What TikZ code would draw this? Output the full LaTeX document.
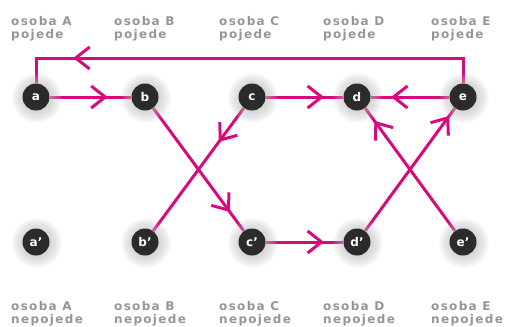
\documentclass[tikz,border=0pt]{standalone}
\usepackage{fontspec}
\setmainfont{DejaVu Sans}
\newfontfamily\capfont[LetterSpace=11]{DejaVu Sans Bold}
\newfontfamily\dotfont{DejaVu Sans Bold}
\usetikzlibrary{decorations.markings}

\definecolor{flow}{RGB}{214,10,125}
\definecolor{dot}{RGB}{43,43,43}
\definecolor{capgray}{RGB}{150,150,150}
\definecolor{hazegray}{RGB}{185,185,185}

\pgfdeclarelayer{links}
\pgfdeclarelayer{haze}
\pgfsetlayers{links,haze,main}

\tikzset{
  person/.style={circle, fill=dot, minimum size=27pt, inner sep=0pt,
    text=white, font=\dotfont\fontsize{12}{12}\selectfont},
  link/.style={draw=flow, line width=3pt},
  chevron/.style={draw=flow, line width=3pt, line join=miter},
  tipat/.style={postaction={decorate}, decoration={markings,
    mark=at position #1 with {\draw[chevron] (-14pt,-11pt) -- (0pt,0pt) -- (-14pt,11pt);}}},
  caption/.style={anchor=base west, align=left, inner sep=0pt,
    text=capgray, font=\capfont\fontsize{12}{13}\selectfont},
  halo/.style={fill=hazegray, fill opacity=0.065},
}

\begin{document}
\begin{tikzpicture}[x=1pt,y=-1pt]
\useasboundingbox (0,0) rectangle (507,327);

% people who eat
\node[person] (a) at (36,97)  {a};
\node[person] (b) at (145,97) {b};
\node[person] (c) at (252,97) {c};
\node[person] (d) at (357,97) {d};
\node[person] (e) at (463,97) {e};
% people who do not eat
\node[person] (pa) at (36,242)  {a’};
\node[person] (pb) at (145,242) {b’};
\node[person] (pc) at (252,242) {c’};
\node[person] (pd) at (357,242) {d’};
\node[person] (pe) at (463,242) {e’};

\coordinate (ridge) at (0,58);

% soft halos round the dots
\begin{pgfonlayer}{haze}
  \foreach \n in {a,b,c,d,e,pa,pb,pc,pd,pe}
    \foreach \r in {25,24,...,14}
      \fill[halo] ([shift={(1,1)}]\n.center) circle (\r pt);
\end{pgfonlayer}

% connections
\begin{pgfonlayer}{links}
  \draw[link, tipat=0.68] (a) -- (b);
  \draw[link, tipat=0.72] (c) -- (d);
  \draw[link, tipat=0.71] (e) -- (d);
  \draw[link, tipat=0.26] (c) -- (pb);
  \draw[link, tipat=0.83] (b) -- (pc);
  \draw[link, tipat=0.72] (pc) -- (pd);
  \draw[link, tipat=0.92] (pd) -- (e);
  \draw[link, tipat=0.88] (pe) -- (d);
  \draw[link, tipat=0.864] (e) -- (e |- ridge) -- (a |- ridge) -- (a);
\end{pgfonlayer}

% captions (anchored on the baseline of their last line)
\node[caption] (tA) at (11,38.5)  {osoba A\\pojede};
\node[caption] (tB) at (114,38.5) {osoba B\\pojede};
\node[caption] (tC) at (219,38.5) {osoba C\\pojede};
\node[caption] (tD) at (323,38.5) {osoba D\\pojede};
\node[caption] (tE) at (431,38.5) {osoba E\\pojede};

\node[caption] (bA) at (11,323)  {osoba A\\nepojede};
\node[caption] (bB) at (114,323) {osoba B\\nepojede};
\node[caption] (bC) at (219,323) {osoba C\\nepojede};
\node[caption] (bD) at (323,323) {osoba D\\nepojede};
\node[caption] (bE) at (431,323) {osoba E\\nepojede};
\end{tikzpicture}
\end{document}
